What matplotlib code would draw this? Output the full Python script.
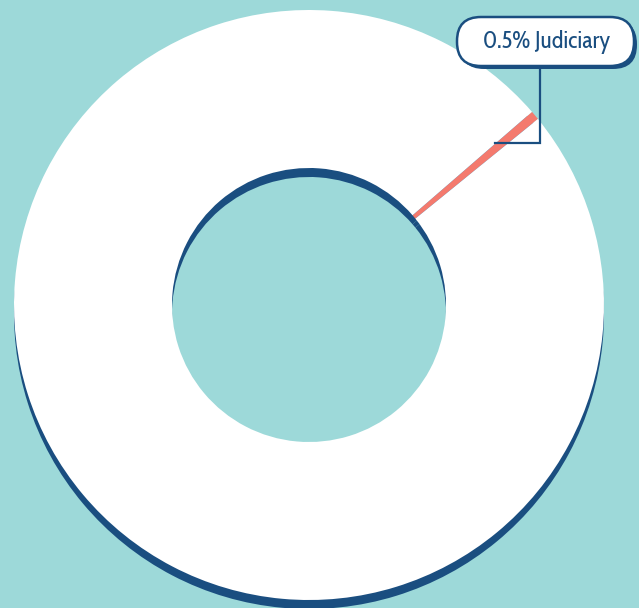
import matplotlib.pyplot as plt
from matplotlib.patches import FancyBboxPatch

# share of budget
labels = ['Judiciary', 'Other']
shares = [0.5, 99.5]

bg = '#9dd9d9'
navy = '#1a4e80'
coral = '#f47a6e'

W, H = 639, 608
fig = plt.figure(figsize=(W / 100, H / 100), dpi=100, facecolor=bg)
ax = fig.add_axes([0, 0, 1, 1])
ax.set_facecolor(bg)

cx, cy = 309, H - 305   # centre in pixel coords (y up)
r_out, r_in = 295, 137
start = 39.1

# shadow ring, shifted down
ax.pie(shares, colors=[navy, navy], radius=r_out, center=(cx, cy - 9),
       startangle=start, counterclock=True,
       wedgeprops=dict(width=r_out - r_in, linewidth=0))
# main ring
ax.pie(shares, colors=[coral, 'white'], radius=r_out, center=(cx, cy),
       startangle=start, counterclock=True,
       wedgeprops=dict(width=r_out - r_in, linewidth=0))

# label box
bx0, by0, bw, bh = 457, H - 66, 177, 49
shadow = FancyBboxPatch((bx0 + 3, by0 - 3), bw, bh,
                        boxstyle='round,pad=0,rounding_size=24',
                        facecolor=navy, edgecolor='none', zorder=5)
box = FancyBboxPatch((bx0, by0), bw, bh,
                     boxstyle='round,pad=0,rounding_size=24',
                     facecolor='white', edgecolor=navy, linewidth=1.8, zorder=6)
ax.add_patch(shadow)
ax.add_patch(box)
ax.text(bx0 + bw / 2 + 1, by0 + bh / 2 - 1, f'{shares[0]}% {labels[0]}',
        ha='center', va='center', color=navy, fontsize=17,
        family=['Cabin Condensed', 'DejaVu Sans'], zorder=7)

# leader line
ax.plot([540, 540, 495], [by0, H - 143, H - 143], color=navy, lw=1.6,
        solid_joinstyle='miter', zorder=4)

ax.set_xlim(0, W)
ax.set_ylim(0, H)
ax.set_aspect('equal')
ax.axis('off')

fig.savefig('out.png', dpi=100, facecolor=bg)
